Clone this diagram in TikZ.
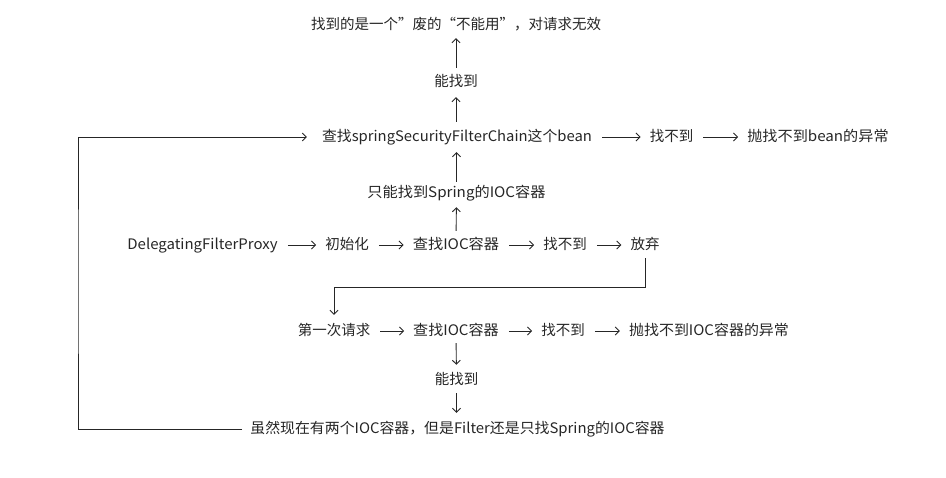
\documentclass[tikz,border=0pt]{standalone}
\usepackage{graphicx}
\usepackage{fontspec}
\newfontfamily\cjk{Noto Sans CJK SC}
\usetikzlibrary{arrows.meta}
\definecolor{ink}{HTML}{262626}
\newcommand{\sx}[2]{\scalebox{#1}[1]{#2}}
\tikzset{
  lbl/.style={inner xsep=0pt, inner ysep=0.5pt, text height=12pt, text depth=2pt,
    anchor=center, font=\cjk\fontsize{14.5pt}{16pt}\selectfont, text=ink},
  arr/.style={draw=ink, line width=0.9pt, -{Straight Barb[length=4pt,width=8pt,line width=0.9pt]}},
  harr/.style={arr, shorten <=10pt, shorten >=9pt},
  ln/.style={draw=ink, line width=0.9pt}
}
\begin{document}
\begin{tikzpicture}[x=1pt,y=-1pt]
\useasboundingbox (0,0) rectangle (946,478);
% nodes
\node[lbl] (t1) at (456,25) {找到的是一个”废的“不能用”，对请求无效};
\node[lbl] (c1) at (456,82) {能找到};
\node[lbl] (r3a) at (457,137) {\sx{1.023}{查找springSecurityFilterChain这个bean}};
\node[lbl] (r3b) at (671.5,137) {找不到};
\node[lbl] (r3c) at (818,137) {\sx{1.045}{抛找不到bean的异常}};
\node[lbl] (s1) at (456.5,193) {\sx{1.047}{只能找到Spring的IOC容器}};
\node[lbl] (r4a) at (202.5,245) {\sx{1.034}{DelegatingFilterProxy}};
\node[lbl] (r4b) at (347,245) {初始化};
\node[lbl] (r4c) at (456,245) {\sx{1.05}{查找IOC容器}};
\node[lbl] (r4d) at (565,245) {找不到};
\node[lbl] (r4e) at (645,245) {放弃};
\node[lbl] (r5a) at (334,331) {第一次请求};
\node[lbl] (r5b) at (456,331) {\sx{1.04}{查找IOC容器}};
\node[lbl] (r5c) at (563,331) {找不到};
\node[lbl] (r5d) at (709,331) {\sx{1.033}{抛找不到IOC容器的异常}};
\node[lbl] (c2) at (456.5,380) {能找到};
\node[lbl] (r6) at (457.5,429) {\sx{1.027}{虽然现在有两个IOC容器，但是Filter还是只找Spring的IOC容器}};
\coordinate (j1) at (500,287);
\coordinate (lx) at (78,280);
% vertical arrows
\draw[arr, shorten <=6.5pt, shorten >=5.5pt] (c1) -- (t1);
\draw[arr, shorten <=7.5pt, shorten >=7.5pt] (r3a.north -| c1) -- (c1);
\draw[arr, shorten <=3.5pt, shorten >=7.5pt] (s1) -- (s1 |- r3a.south);
\draw[arr, shorten <=6.5pt, shorten >=6.5pt] (r4c) -- (s1);
\draw[arr, shorten <=4.5pt, shorten >=7.5pt] (r5b) -- (c2);
\draw[arr, shorten <=5.5pt, shorten >=8.5pt] (c2) -- (c2 |- r6.north);
% horizontal arrows
\draw[harr] (r3a) -- (r3b);
\draw[harr] (r3b) -- (r3c);
\draw[harr] (r4a) -- (r4b);
\draw[harr] (r4b) -- (r4c);
\draw[harr] (r4c) -- (r4d);
\draw[harr] (r4d) -- (r4e);
\draw[harr] (r5a) -- (r5b);
\draw[harr] (r5b) -- (r5c);
\draw[harr] (r5c) -- (r5d);
% elbow connectors
\draw[arr, shorten <=5.5pt, shorten >=8.5pt] (r4e.south) -- (r4e.south |- j1) -| (r5a.north);
\draw[arr, shorten <=8pt, shorten >=15pt] (r6.west) -| (lx) |- (r3a.west);
\end{tikzpicture}
\end{document}
